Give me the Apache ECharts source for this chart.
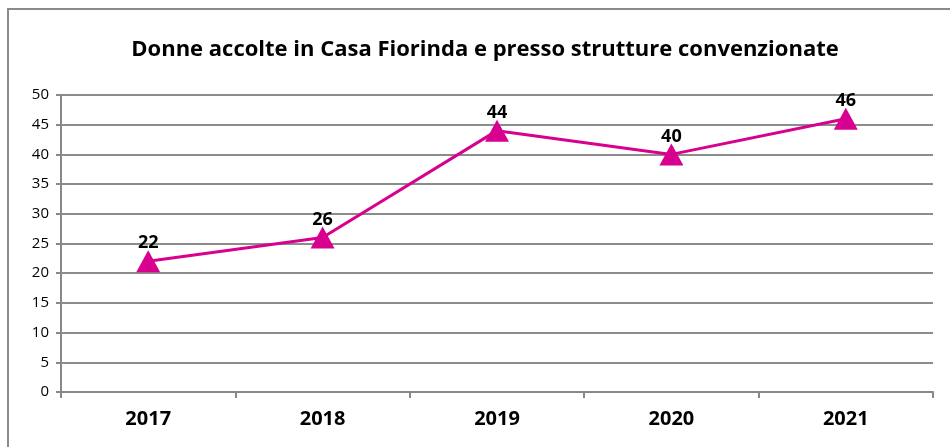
<!DOCTYPE html>
<html><head><meta charset="utf-8">
<script src="https://cdn.jsdelivr.net/npm/echarts@6/dist/echarts.min.js"></script>
<style>html,body{margin:0;padding:0;background:#fff}#c{width:950px;height:447px}</style>
</head><body><div id="c"></div>
<script>
const titleText = 'Donne accolte in Casa Fiorinda e presso strutture convenzionate';
const categories = ['2017', '2018', '2019', '2020', '2021'];
const values = [22, 26, 44, 40, 46];

const FONT = '"Open Sans", "Noto Sans", sans-serif';
const chart = echarts.init(document.getElementById('c'), null, {renderer: 'canvas'});
chart.setOption({
  backgroundColor: '#fff',
  animation: false,
  title: {
    text: titleText, left: 480, top: 34, textAlign: 'center',
    textStyle: {fontFamily: FONT, fontWeight: 'bold', fontSize: 22, color: '#000'}
  },
  graphic: [{
    type: 'rect', silent: true, z: 100,
    shape: {x: 8, y: 9, width: 1000, height: 1000},
    style: {fill: 'none', stroke: '#8a8a8a', lineWidth: 2}
  }],
  grid: {left: 61, right: 17, top: 95, bottom: 55, containLabel: false},
  xAxis: {
    type: 'category', data: categories, boundaryGap: true,
    axisLine: {lineStyle: {color: '#888', width: 2}},
    axisTick: {show: true, length: 6, interval: 0, lineStyle: {color: '#888', width: 2}},
    axisLabel: {fontFamily: FONT, fontWeight: 'bold', fontSize: 20, color: '#000', margin: 17}
  },
  yAxis: {
    type: 'value', min: 0, max: 50, interval: 5,
    axisLine: {show: true, lineStyle: {color: '#888', width: 2}},
    axisTick: {show: true, length: 5, lineStyle: {color: '#888', width: 2}},
    splitLine: {lineStyle: {color: '#8c8c8c', width: 2}},
    axisLabel: {fontFamily: FONT, fontSize: 15, color: '#000', margin: 12}
  },
  series: [{
    type: 'line', data: values,
    symbol: 'triangle', symbolSize: [24, 22],
    itemStyle: {color: '#D8008F'},
    lineStyle: {color: '#D8008F', width: 3},
    label: {
      show: true, position: 'top', distance: -2,
      fontFamily: FONT, fontWeight: 'bold', fontSize: 18, color: '#000'
    }
  }]
});
</script></body></html>
